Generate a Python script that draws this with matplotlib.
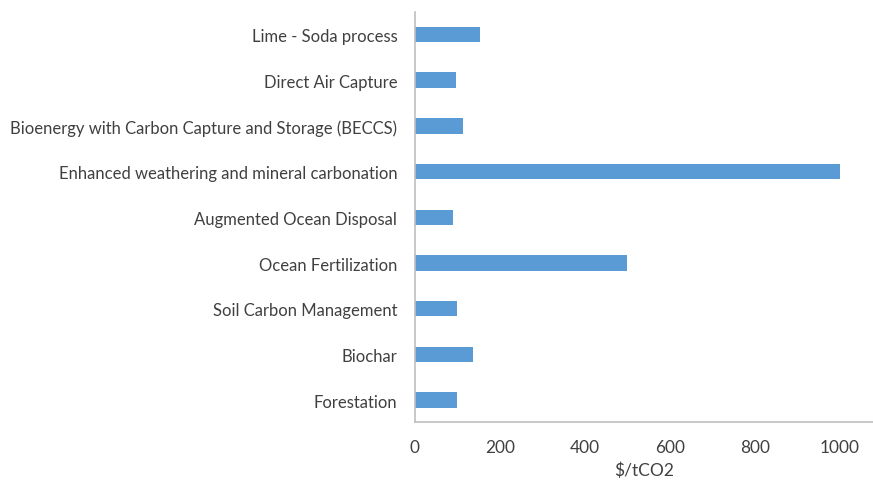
import matplotlib
matplotlib.use("Agg")
import matplotlib.pyplot as plt

plt.rcParams['font.family'] = ['Lato', 'DejaVu Sans']

metodos = ["Forestation", "Biochar", "Soil Carbon Management", "Ocean Fertilization",
           "Augmented Ocean Disposal", "Enhanced weathering and mineral carbonation",
           "Bioenergy with Carbon Capture and Storage (BECCS)", "Direct Air Capture",
           "Lime - Soda process"]
costos = [100, 137, 100, 500, 90, 1000, 113, 97, 154]
ticks_x = [0, 200, 400, 600, 800, 1000]

fig = plt.figure(figsize=(8.73, 4.85), dpi=100)
ax = fig.add_axes([0.475, 0.1278, 0.525, 0.846])

ax.barh(range(len(metodos)), costos, height=0.34, color="#5B9BD5")
ax.set_yticks(range(len(metodos)))
ax.set_yticklabels(metodos)
ax.set_xticks(ticks_x)
ax.set_xlim(0, 1078)
ax.set_ylim(-0.48, len(metodos) - 0.5)

ax.tick_params(axis="both", length=0, labelsize=12, colors="#404040")
ax.tick_params(axis="x", labelsize=12.4)
ax.tick_params(axis="y", pad=12.5)
ax.tick_params(axis="x", pad=12)
for lado in ["top", "right"]:
    ax.spines[lado].set_visible(False)
for lado in ["left", "bottom"]:
    ax.spines[lado].set_color("#BFBFBF")
    ax.spines[lado].set_linewidth(1.2)

ax.set_xlabel("\\$/tCO2", fontsize=12.5, color="#404040", labelpad=5)

fig.savefig("out.png", dpi=100)
